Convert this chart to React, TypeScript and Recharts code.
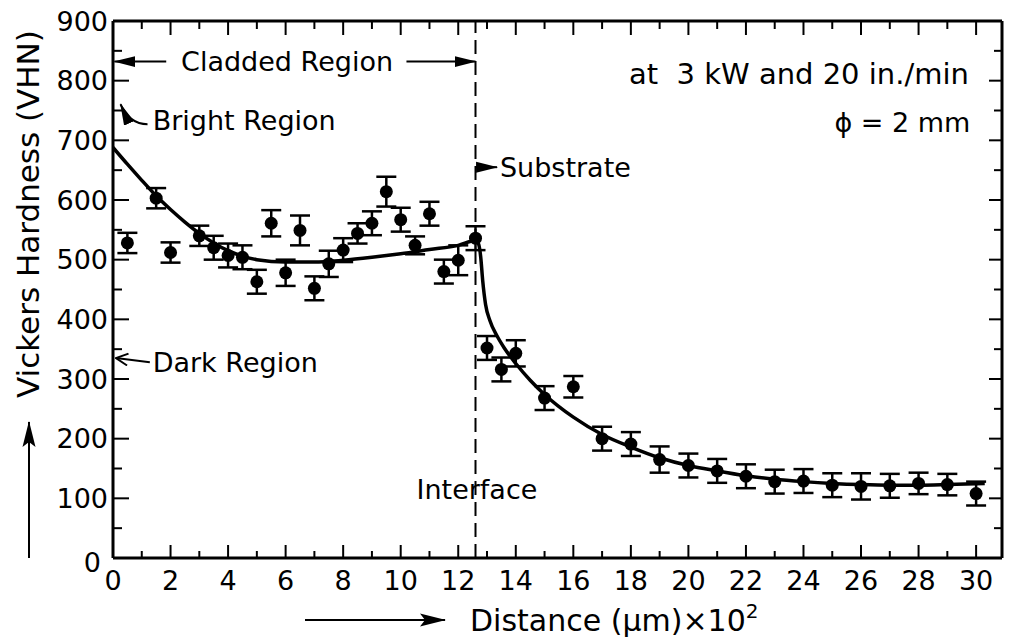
import React from 'react';
import { ComposedChart, Line, Scatter, ErrorBar, XAxis, YAxis, ReferenceLine, ReferenceDot } from 'recharts';

document.body.style.margin = '0';

const FONT = '"DejaVu Sans", Lato, sans-serif';

// measured points in the cladded layer: distance (x100 um), hardness (VHN), error
const cladX = [0.5, 1.5, 2, 3, 3.5, 4, 4.5, 5, 5.5, 6, 6.5, 7, 7.5, 8, 8.5, 9, 9.5, 10, 10.5, 11, 11.5, 12, 12.6];
const cladY = [528, 603, 512, 540, 520, 507, 504, 463, 561, 478, 549, 452, 493, 516, 544, 561, 614, 567, 524, 577, 480, 499, 536];
const cladErr = [17, 17, 17, 17, 20, 20, 20, 20, 22, 22, 25, 20, 22, 20, 17, 20, 25, 20, 15, 20, 20, 25, 20];

// measured points in the substrate
const subX = [13, 13.5, 14, 15, 16, 17, 18, 19, 20, 21, 22, 23, 24, 25, 26, 27, 28, 29, 30];
const subY = [352, 316, 343, 268, 287, 200, 191, 165, 155, 146, 137, 128, 129, 122, 120, 121, 125, 123, 108];
const subErr = [20, 20, 22, 20, 18, 20, 20, 22, 20, 20, 20, 20, 20, 20, 22, 20, 18, 18, 20];

// hand-drawn fit curve
const fitX = [0, 0.5, 1, 1.5, 2, 2.5, 3, 3.5, 4, 4.5, 5, 6, 7, 8, 9, 10, 11, 12, 12.6, 12.7, 12.78, 12.85, 12.95, 13.1, 13.35, 13.6, 14, 14.5, 15, 16, 17, 18, 19, 20, 21, 22, 23, 24, 25, 26, 27, 28, 29, 30.3];
const fitY = [688, 660, 633, 607, 584, 563, 544, 528, 515, 506, 500, 496, 496, 499, 504, 510, 517, 524, 532, 527, 505, 465, 425, 398, 372, 352, 326, 298, 274, 236, 207, 186, 168, 155, 146, 138, 132, 128, 125, 123, 122, 122, 123, 125];

const xTicks = [0, 1, 2, 3, 4, 5, 6, 7, 8, 9, 10, 11, 12, 13, 14, 15, 16, 17, 18, 19, 20, 21, 22, 23, 24, 25, 26, 27, 28, 29, 30];
const yTicks = [0, 50, 100, 150, 200, 250, 300, 350, 400, 450, 500, 550, 600, 650, 700, 750, 800, 850, 900];

const interfaceX = 12.6;

const points = [
  ...cladX.map((x, i) => ({ x, y: cladY[i], err: cladErr[i] })),
  ...subX.map((x, i) => ({ x, y: subY[i], err: subErr[i] })),
];
const fit = fitX.map((x, i) => ({ x, y: fitY[i] }));

const txt = { fontFamily: FONT, fill: '#000' };

function BottomTick({ x, y, payload }: any) {
  const major = payload.value % 2 === 0;
  return (
    <g>
      <line x1={x} x2={x} y1={y} y2={y - (major ? 13 : 7)} stroke="#000" strokeWidth={2} />
      {major && (
        <text x={x} y={y + 32} textAnchor="middle" fontSize={27} {...txt}>
          {payload.value}
        </text>
      )}
    </g>
  );
}

function TopTick({ x, y, payload }: any) {
  const major = payload.value % 2 === 0;
  return <line x1={x} x2={x} y1={y} y2={y + (major ? 14 : 8)} stroke="#000" strokeWidth={2} />;
}

function LeftTick({ x, y, payload }: any) {
  const major = payload.value % 100 === 0;
  const zero = payload.value === 0;
  return (
    <g>
      <line x1={x} x2={x + (major ? 16 : 9)} y1={y} y2={y} stroke="#000" strokeWidth={2} />
      {major && (
        <text x={x - (zero ? 12 : 5)} y={y + (zero ? 4 : 0)} textAnchor="end" dominantBaseline="central" fontSize={27} {...txt}>
          {payload.value}
        </text>
      )}
    </g>
  );
}

function RightTick({ x, y, payload }: any) {
  const major = payload.value % 100 === 0;
  return <line x1={x} x2={x - (major ? 13 : 8)} y1={y} y2={y} stroke="#000" strokeWidth={2} />;
}

function Dot(props: any) {
  return <circle cx={props.cx} cy={props.cy} r={6.5} fill="#000" />;
}

const label = (text: string, anchor: 'start' | 'middle' | 'end', size = 27) => (p: any) => (
  <text x={p.cx} y={p.cy} textAnchor={anchor} dominantBaseline="central" fontSize={size} style={{ whiteSpace: 'pre' }} {...txt}>
    {text}
  </text>
);

const brightArrow = (p: any) => (
  <path d={`M${p.cx},${p.cy} q-18,0 -27,-20`} fill="none" stroke="#000" strokeWidth={2} markerEnd="url(#head)" />
);

export default function App() {
  return (
    <ComposedChart width={1016} height={644} margin={{ top: 20, right: 13, left: 53, bottom: 56 }} style={{ background: '#fff' }}>
      <defs>
        <marker id="head" viewBox="0 0 22 12" refX="21" refY="6" markerWidth="22" markerHeight="12" markerUnits="userSpaceOnUse" orient="auto">
          <path d="M0,0.5 L22,6 L0,11.5 z" fill="#000" />
        </marker>
        <marker id="big" viewBox="0 0 26 14" refX="25" refY="7" markerWidth="26" markerHeight="14" markerUnits="userSpaceOnUse" orient="auto">
          <path d="M0,0.5 L26,7 L0,13.5 L5,7 z" fill="#000" />
        </marker>
        <marker id="open" viewBox="0 0 14 14" refX="13" refY="7" markerWidth="14" markerHeight="14" markerUnits="userSpaceOnUse" orient="auto">
          <path d="M1,1 L13,7 L1,13" fill="none" stroke="#000" strokeWidth={2} />
        </marker>
      </defs>

      <XAxis dataKey="x" type="number" domain={[0, 30.9]} ticks={xTicks} interval={0} allowDataOverflow
        tickSize={0} tickMargin={0} tickLine={false} tick={<BottomTick />} axisLine={{ stroke: '#000', strokeWidth: 3 }} height={30} />
      <XAxis xAxisId="t" orientation="top" dataKey="x" type="number" domain={[0, 30.9]} ticks={xTicks} interval={0} allowDataOverflow
        tickSize={0} tickMargin={0} tickLine={false} tick={<TopTick />} axisLine={{ stroke: '#000', strokeWidth: 3 }} height={1} />
      <YAxis dataKey="y" type="number" domain={[0, 900]} ticks={yTicks} interval={0} allowDataOverflow
        tickSize={0} tickMargin={0} tickLine={false} tick={<LeftTick />} axisLine={{ stroke: '#000', strokeWidth: 3 }} width={60} />
      <YAxis yAxisId="r" orientation="right" dataKey="y" type="number" domain={[0, 900]} ticks={yTicks} interval={0} allowDataOverflow
        tickSize={0} tickMargin={0} tickLine={false} tick={<RightTick />} axisLine={{ stroke: '#000', strokeWidth: 3 }} width={1} />

      <ReferenceLine x={interfaceX} stroke="#000" strokeWidth={2} strokeDasharray="14 7" />

      <Line data={fit} dataKey="y" type="monotone" stroke="#000" strokeWidth={3.5} dot={false} isAnimationActive={false} />
      <Scatter data={points} dataKey="y" shape={<Dot />} isAnimationActive={false}>
        <ErrorBar dataKey="err" direction="y" width={10} stroke="#000" strokeWidth={2.5} />
      </Scatter>

      {/* Cladded region double arrow */}
      <ReferenceLine segment={[{ x: 1.85, y: 832 }, { x: 0.05, y: 832 }]} stroke="#000" strokeWidth={2} markerEnd="url(#head)" />
      <ReferenceLine segment={[{ x: 10.2, y: 832 }, { x: interfaceX, y: 832 }]} stroke="#000" strokeWidth={2} markerEnd="url(#head)" />
      <ReferenceDot x={6.05} y={832} shape={label('Cladded Region', 'middle')} />

      <ReferenceDot x={1.2} y={727} shape={brightArrow} />
      <ReferenceDot x={1.38} y={734} shape={label('Bright Region', 'start')} />

      <ReferenceLine segment={[{ x: 1.28, y: 328 }, { x: 0.1, y: 335 }]} stroke="#000" strokeWidth={2} markerEnd="url(#open)" />
      <ReferenceDot x={1.38} y={328} shape={label('Dark Region', 'start')} />

      <ReferenceLine segment={[{ x: interfaceX, y: 655 }, { x: 13.35, y: 655 }]} stroke="#000" strokeWidth={2} markerEnd="url(#head)" />
      <ReferenceDot x={13.45} y={655} shape={label('Substrate', 'start')} />

      <ReferenceDot x={12.65} y={114} shape={label('Interface', 'middle')} />

      <ReferenceDot x={29.75} y={812} shape={label('at  3 kW and 20 in./min', 'end', 29)} />
      <ReferenceDot x={29.8} y={730} shape={label('ϕ = 2 mm', 'end')} />

      {/* axis titles */}
      <text transform="translate(28,214) rotate(-90)" textAnchor="middle" dominantBaseline="central" fontSize={31} {...txt}>
        Vickers Hardness (VHN)
      </text>
      <line x1={29} y1={558} x2={29} y2={422} stroke="#000" strokeWidth={2} markerEnd="url(#big)" />
      <text x={470} y={631} fontSize={30} {...txt}>
        Distance (μm)×10<tspan dy={-13} fontSize={20}>2</tspan>
      </text>
      <line x1={305} y1={620} x2={445} y2={620} stroke="#000" strokeWidth={2} markerEnd="url(#big)" />
    </ComposedChart>
  );
}
